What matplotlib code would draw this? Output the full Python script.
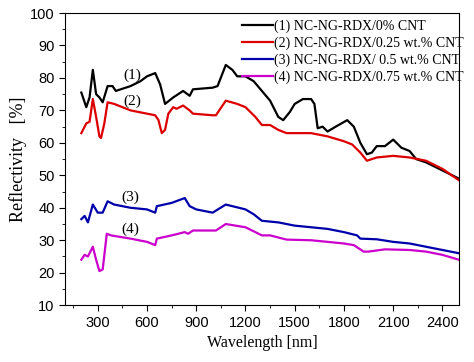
import matplotlib
matplotlib.use("Agg")
import matplotlib.pyplot as plt
from matplotlib.ticker import MultipleLocator

# (1) 0% CNT
wl1 = [200, 230, 250, 270, 290, 310, 330, 360, 390, 410, 500, 560, 600, 650, 680, 710, 760, 820, 860, 880,
       1000, 1030, 1080, 1120, 1150, 1200, 1250, 1300, 1350, 1400, 1430, 1470, 1500, 1550, 1600, 1620, 1640,
       1670, 1690, 1700, 1750, 1820, 1860, 1900, 1940, 1970, 2000, 2050, 2100, 2150, 2200, 2240, 2300, 2400, 2500]
r1 = [75.5, 71, 74, 82.5, 75, 74, 72.5, 77.5, 77.5, 76, 77.5, 79, 80.5, 81.5, 78, 72, 74, 76, 74.5, 76.5,
      77, 77.5, 84, 82.5, 80.5, 80.5, 79, 76, 73, 68, 67, 69.5, 72, 73.5, 73.5, 72, 64.5,
      65, 64, 63.5, 65, 67, 65, 60, 56.5, 57, 59, 59, 61, 58.5, 57.5, 55, 54, 51.5, 49]

# (2) 0.25 wt.% CNT
wl2 = [200, 230, 250, 270, 290, 310, 320, 340, 360, 400, 500, 600, 650, 670, 690, 710, 730, 760, 780, 820,
       860, 880, 1000, 1020, 1080, 1150, 1200, 1260, 1300, 1350, 1400, 1450, 1500, 1600, 1700, 1800, 1850,
       1900, 1940, 2000, 2100, 2200, 2300, 2400, 2500]
r2 = [63, 66, 66.5, 73.5, 68, 62, 61.5, 66, 72.5, 72, 70, 69, 68.5, 67, 63, 64, 69, 71, 70.5, 71.5,
      70, 69, 68.5, 68.5, 73, 72, 71, 68, 65.5, 65.5, 64, 63, 63, 63, 62, 60.5, 59.5,
      57, 54.5, 55.5, 56, 55.5, 54.5, 52, 48.5]

# (3) 0.5 wt.% CNT
wl3 = [200, 220, 240, 270, 300, 330, 360, 400, 500, 600, 650, 660, 750, 830, 860, 900, 1000, 1080, 1200,
       1250, 1300, 1400, 1500, 1600, 1700, 1800, 1880, 1900, 2000, 2100, 2200, 2300, 2400, 2500]
r3 = [36.5, 37.5, 35.5, 41, 38.5, 38.5, 42, 41, 40, 39.5, 38.5, 40.5, 41.5, 43, 40.5, 39.5, 38.5, 41, 39.5,
      38, 36, 35.5, 34.5, 34, 33.5, 32.5, 31.5, 30.5, 30.3, 29.5, 29, 28, 27, 26]

# (4) 0.75 wt.% CNT
wl4 = [200, 220, 240, 270, 290, 310, 330, 355, 380, 500, 600, 650, 660, 750, 830, 850, 880, 1000, 1020,
       1080, 1200, 1300, 1350, 1450, 1600, 1700, 1800, 1860, 1920, 1950, 2050, 2200, 2300, 2400, 2500]
r4 = [24, 25.5, 25, 28, 24, 20.5, 21, 32, 31.5, 30.5, 29.5, 28.5, 30.5, 31.5, 32.5, 32, 33, 33, 33,
      35, 34, 31.5, 31.5, 30.2, 30, 29.5, 29, 28.5, 26.5, 26.5, 27.2, 27, 26.5, 25.5, 24]

labels = ['(1) NC-NG-RDX/0% CNT', '(2) NC-NG-RDX/0.25 wt.% CNT',
          '(3) NC-NG-RDX/ 0.5 wt.% CNT', '(4) NC-NG-RDX/0.75 wt.% CNT']
colors = ['#000000', '#dd0000', '#0000aa', '#cc00cc']
tags = ['(1)', '(2)', '(3)', '(4)']
tag_pos = [(510, 80.8), (510, 72.7), (500, 43.2), (500, 33.3)]

serif = 'Liberation Serif'
fig = plt.figure(figsize=(4.74, 3.62), dpi=100)
ax = fig.add_axes([0.137, 0.157, 0.831, 0.807])

series = [(wl1, r1), (wl2, r2), (wl3, r3), (wl4, r4)]
for (x, y), lab, c in zip(series, labels, colors):
    ax.plot(x, y, color=c, lw=1.6, label=lab)

for t, (tx, ty) in zip(tags, tag_pos):
    ax.text(tx, ty, t, fontsize=11, family=serif, ha='center', va='center')

ax.set_xlim(100, 2500)
ax.set_ylim(10, 100)
ax.set_xticks([300, 600, 900, 1200, 1500, 1800, 2100, 2400])
ax.xaxis.set_minor_locator(MultipleLocator(150))
ax.yaxis.set_major_locator(MultipleLocator(10))
ax.yaxis.set_minor_locator(MultipleLocator(5))
ax.tick_params(which='major', length=4, labelsize=10.5)
ax.tick_params(which='minor', length=2.5)
for lbl in ax.get_xticklabels() + ax.get_yticklabels():
    lbl.set_family('Liberation Sans')

ax.set_xlabel('Wavelength [nm]', family=serif, fontsize=11.5)
ax.set_ylabel('Reflectivity   [%]', family=serif, fontsize=13, labelpad=2)

leg = ax.legend(loc='upper right', frameon=False, prop={'family': serif, 'size': 10},
                handlelength=2.2, handletextpad=0.1, labelspacing=0.25,
                borderaxespad=0.1, bbox_to_anchor=(1.03, 1.0))

fig.savefig('out.png', dpi=100)
